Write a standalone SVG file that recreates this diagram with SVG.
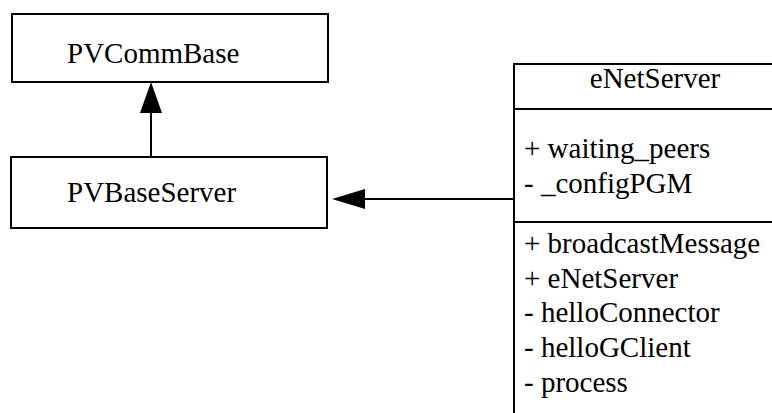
<svg xmlns="http://www.w3.org/2000/svg" width="772" height="413" viewBox="0 0 772 413">
<defs>
<style>
.box{fill:#fff;stroke:#000;stroke-width:2}
.t{font-family:"Liberation Serif","Times New Roman",serif;font-size:29px;fill:#000}
.c{stroke:#000;stroke-width:2;fill:none}
</style>
</defs>
<rect width="772" height="413" fill="#fff"/>
<g id="PVCommBase">
<rect class="box" x="12" y="14" width="316" height="68"/>
<text class="t" x="67" y="63">PVCommBase</text>
</g>
<g id="PVBaseServer">
<rect class="box" x="11" y="157" width="316" height="71"/>
<text class="t" x="67" y="202">PVBaseServer</text>
</g>
<g id="eNetServer">
<rect class="box" x="514" y="64" width="300" height="400"/>
<line class="c" x1="514" y1="109" x2="772" y2="109"/>
<line class="c" x1="514" y1="222" x2="772" y2="222"/>
<text class="t" x="655" y="88" text-anchor="middle">eNetServer</text>
<text class="t" x="524" y="158">+ waiting_peers</text>
<text class="t" x="524" y="193">- _configPGM</text>
<text class="t" x="524" y="253">+ broadcastMessage</text>
<text class="t" x="524" y="288">+ eNetServer</text>
<text class="t" x="524" y="322">- helloConnector</text>
<text class="t" x="524" y="357">- helloGClient</text>
<text class="t" x="524" y="392">- process</text>
</g>
<g id="connectors">
<line class="c" x1="151" y1="157" x2="151" y2="113"/>
<path d="M151,82 L162,113 L140,113 z" fill="#000"/>
<line class="c" x1="514" y1="199" x2="365" y2="199"/>
<path d="M332,199 L365,189 L365,209 z" fill="#000"/>
</g>
</svg>
